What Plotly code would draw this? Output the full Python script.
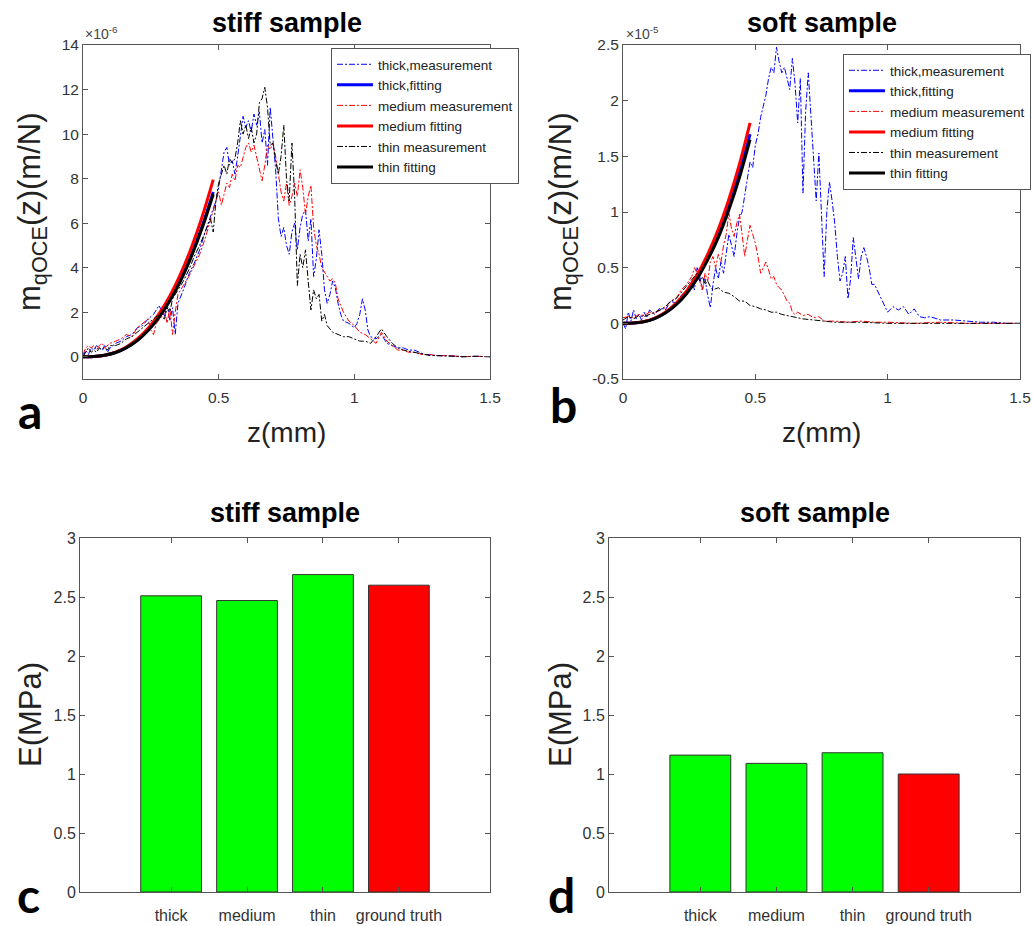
import plotly.graph_objects as go

# figure fills the whole 1033x926 page (body margin removed after drawing)
W, H = 1033, 926
def px(x): return x / W
def py(y): return 1 - y / H

# ---------------- data (z in mm, m in 1e-6 m/N for stiff, 1e-5 m/N for soft) ----------------
stiff_thick_meas = [(0,0.0),(0.01,0.3),(0.02,0.1),(0.03,0.4),(0.04,0.3),(0.05,0.5),(0.06,0.4),(0.07,0.3),(0.08,0.5),(0.09,0.2),(0.10,0.4),(0.12,0.6),(0.14,0.7),(0.16,0.9),(0.18,1.0),(0.20,1.3),(0.22,1.4),(0.24,1.7),(0.26,1.9),(0.28,2.3),(0.30,1.8),(0.31,2.4),(0.32,1.6),(0.33,2.2),(0.34,1.0),(0.35,2.4),(0.37,3.0),(0.39,3.7),(0.41,4.2),(0.43,4.8),(0.45,5.6),(0.47,6.3),(0.49,7.0),(0.50,7.6),(0.51,8.5),(0.52,9.2),(0.53,9.4),(0.54,8.6),(0.55,8.8),(0.56,8.2),(0.57,9.0),(0.58,9.8),(0.59,10.8),(0.60,10.3),(0.61,10.6),(0.62,10.1),(0.63,10.9),(0.64,10.4),(0.65,11.0),(0.66,9.6),(0.67,10.2),(0.68,8.6),(0.69,11.2),(0.70,9.8),(0.71,8.4),(0.72,6.2),(0.73,5.4),(0.74,5.8),(0.75,5.0),(0.76,4.6),(0.77,5.6),(0.78,6.0),(0.79,4.8),(0.80,5.8),(0.81,6.4),(0.82,6.6),(0.83,5.2),(0.84,6.2),(0.85,3.6),(0.86,4.4),(0.87,5.7),(0.88,4.6),(0.89,3.0),(0.90,2.4),(0.91,2.8),(0.92,3.4),(0.93,3.1),(0.94,2.4),(0.95,1.9),(0.96,1.6),(0.98,1.5),(1.00,1.3),(1.01,1.5),(1.02,1.9),(1.03,2.6),(1.04,2.1),(1.05,1.2),(1.06,0.9),(1.08,0.8),(1.10,1.0),(1.12,0.6),(1.14,0.5),(1.16,0.4),(1.18,0.4),(1.20,0.3),(1.22,0.3),(1.24,0.2),(1.26,0.1),(1.28,0.1),(1.30,0.05),(1.35,0.05),(1.40,0.0),(1.45,0.02),(1.50,0.0)]
stiff_medium_meas = [(0,0.1),(0.01,0.4),(0.02,0.5),(0.03,0.4),(0.04,0.5),(0.05,0.3),(0.06,0.5),(0.07,0.6),(0.08,0.4),(0.09,0.5),(0.10,0.6),(0.12,0.7),(0.14,0.8),(0.16,1.0),(0.18,0.9),(0.20,1.3),(0.22,1.5),(0.24,1.7),(0.25,1.2),(0.26,1.0),(0.27,1.5),(0.29,1.8),(0.30,2.1),(0.31,1.5),(0.32,2.2),(0.33,1.0),(0.34,2.0),(0.35,2.8),(0.37,3.2),(0.39,3.6),(0.41,4.1),(0.43,4.6),(0.45,5.3),(0.47,6.2),(0.49,7.0),(0.50,7.4),(0.51,6.8),(0.52,7.3),(0.53,7.8),(0.54,7.6),(0.55,8.2),(0.56,7.9),(0.57,8.6),(0.58,8.5),(0.59,9.0),(0.60,9.4),(0.61,9.6),(0.62,9.2),(0.63,9.5),(0.64,9.0),(0.65,8.4),(0.66,7.9),(0.67,8.6),(0.68,9.5),(0.69,9.3),(0.70,9.6),(0.71,9.0),(0.72,8.2),(0.73,7.4),(0.74,7.0),(0.75,7.8),(0.76,6.8),(0.77,7.2),(0.78,7.8),(0.79,7.2),(0.80,8.4),(0.81,7.6),(0.82,6.4),(0.83,7.2),(0.84,7.7),(0.85,5.8),(0.86,5.0),(0.87,4.6),(0.88,4.0),(0.89,3.8),(0.90,3.6),(0.91,3.4),(0.92,3.5),(0.93,3.3),(0.94,2.6),(0.95,2.3),(0.96,2.0),(0.98,1.6),(1.00,1.4),(1.02,1.1),(1.04,1.0),(1.06,0.8),(1.08,0.6),(1.10,1.1),(1.12,0.7),(1.14,0.5),(1.16,0.3),(1.18,0.3),(1.20,0.2),(1.22,0.2),(1.25,0.1),(1.28,0.1),(1.30,0.05),(1.35,0.05),(1.40,0.0),(1.45,0.02),(1.50,0.0)]
stiff_thin_meas = [(0,0.0),(0.01,0.2),(0.02,0.4),(0.03,0.2),(0.04,0.3),(0.05,0.2),(0.06,0.4),(0.07,0.3),(0.08,0.4),(0.09,0.3),(0.10,0.5),(0.12,0.5),(0.14,0.6),(0.16,0.8),(0.18,0.9),(0.20,1.1),(0.22,1.3),(0.24,1.5),(0.26,1.7),(0.28,1.9),(0.30,1.7),(0.31,2.2),(0.32,2.0),(0.33,2.6),(0.35,3.0),(0.37,3.4),(0.39,3.9),(0.41,4.5),(0.43,5.0),(0.45,5.6),(0.47,6.2),(0.48,5.6),(0.49,7.0),(0.50,7.8),(0.51,8.2),(0.52,8.6),(0.53,8.2),(0.54,8.9),(0.55,8.7),(0.56,8.9),(0.57,9.6),(0.58,10.6),(0.59,10.0),(0.60,10.4),(0.61,9.8),(0.62,10.3),(0.63,9.6),(0.64,10.0),(0.65,11.4),(0.66,11.6),(0.67,12.1),(0.68,11.2),(0.69,9.5),(0.70,9.6),(0.71,8.8),(0.72,8.2),(0.73,9.0),(0.74,10.4),(0.75,8.0),(0.76,7.0),(0.77,9.6),(0.78,7.2),(0.79,3.2),(0.80,4.6),(0.81,4.0),(0.82,4.8),(0.83,3.4),(0.84,2.1),(0.85,3.0),(0.86,2.6),(0.87,2.8),(0.88,1.6),(0.89,1.9),(0.90,1.4),(0.92,1.1),(0.94,1.0),(0.96,0.9),(0.98,0.9),(1.00,0.8),(1.02,0.7),(1.04,0.7),(1.06,0.6),(1.08,0.9),(1.10,1.25),(1.12,0.9),(1.14,0.6),(1.16,0.4),(1.18,0.3),(1.20,0.25),(1.22,0.2),(1.25,0.1),(1.28,0.05),(1.30,0.05),(1.35,0.02),(1.40,0.0),(1.45,0.02),(1.50,0.0)]

fit_z = [0, 0.04, 0.08, 0.12, 0.16, 0.20, 0.24, 0.28, 0.32, 0.36, 0.40, 0.44, 0.48]
stiff_thick_fit = [0, 0.01, 0.07, 0.19, 0.41, 0.74, 1.20, 1.79, 2.55, 3.47, 4.58, 5.89, 7.40]
stiff_medium_fit = [0, 0.01, 0.07, 0.21, 0.44, 0.80, 1.28, 1.93, 2.73, 3.73, 4.92, 6.32, 7.95]
stiff_thin_fit = [0, 0.01, 0.07, 0.19, 0.41, 0.73, 1.18, 1.77, 2.51, 3.42, 4.52, 5.81, 7.30]

soft_thick_meas = [(0,0.0),(0.01,-0.05),(0.02,0.1),(0.03,0.02),(0.04,0.12),(0.05,0.04),(0.06,0.08),(0.07,0.03),(0.08,0.1),(0.09,0.05),(0.10,0.12),(0.12,0.08),(0.14,0.14),(0.16,0.12),(0.18,0.2),(0.20,0.18),(0.22,0.25),(0.24,0.3),(0.26,0.38),(0.27,0.3),(0.28,0.5),(0.29,0.42),(0.30,0.3),(0.31,0.4),(0.32,0.25),(0.33,0.14),(0.34,0.35),(0.35,0.5),(0.36,0.4),(0.37,0.55),(0.38,0.45),(0.39,0.65),(0.40,0.8),(0.41,0.7),(0.42,0.6),(0.43,0.8),(0.44,0.95),(0.45,1.0),(0.46,1.15),(0.47,1.3),(0.48,1.45),(0.49,1.4),(0.50,1.6),(0.51,1.7),(0.52,1.85),(0.53,1.95),(0.54,2.05),(0.55,2.2),(0.56,2.3),(0.57,2.25),(0.58,2.48),(0.59,2.35),(0.60,2.25),(0.61,2.3),(0.62,2.2),(0.63,2.1),(0.64,2.38),(0.65,2.15),(0.66,1.8),(0.67,2.2),(0.68,1.17),(0.69,1.9),(0.70,2.25),(0.71,1.9),(0.72,1.5),(0.73,1.1),(0.74,1.53),(0.75,1.0),(0.76,0.42),(0.77,1.0),(0.78,1.27),(0.79,1.1),(0.80,0.9),(0.81,0.6),(0.82,0.38),(0.83,0.45),(0.84,0.6),(0.85,0.22),(0.86,0.4),(0.87,0.77),(0.88,0.6),(0.89,0.4),(0.90,0.6),(0.91,0.68),(0.92,0.6),(0.93,0.5),(0.94,0.35),(0.95,0.35),(0.96,0.3),(0.98,0.2),(1.00,0.1),(1.02,0.15),(1.04,0.12),(1.06,0.15),(1.08,0.08),(1.10,0.13),(1.12,0.06),(1.14,0.05),(1.16,0.06),(1.20,0.03),(1.25,0.03),(1.30,0.02),(1.35,0.01),(1.40,0.01),(1.45,0.0),(1.50,0.0)]
soft_medium_meas = [(0,0.05),(0.02,0.06),(0.04,0.05),(0.06,0.08),(0.08,0.07),(0.10,0.1),(0.12,0.09),(0.14,0.12),(0.16,0.14),(0.18,0.2),(0.20,0.22),(0.22,0.3),(0.24,0.35),(0.26,0.42),(0.27,0.5),(0.28,0.45),(0.29,0.38),(0.30,0.3),(0.31,0.45),(0.32,0.38),(0.33,0.55),(0.34,0.6),(0.35,0.5),(0.36,0.62),(0.37,0.55),(0.38,0.7),(0.39,0.8),(0.40,0.99),(0.41,0.85),(0.42,0.78),(0.43,0.9),(0.44,0.98),(0.45,0.8),(0.46,0.6),(0.47,0.75),(0.48,0.88),(0.49,0.8),(0.50,0.72),(0.51,0.6),(0.52,0.45),(0.53,0.5),(0.54,0.55),(0.55,0.48),(0.56,0.4),(0.57,0.42),(0.58,0.35),(0.59,0.32),(0.60,0.3),(0.61,0.25),(0.62,0.2),(0.63,0.18),(0.64,0.1),(0.65,0.08),(0.66,0.1),(0.68,0.07),(0.70,0.08),(0.72,0.05),(0.74,0.06),(0.76,0.02),(0.80,0.02),(0.85,0.01),(0.90,0.02),(0.95,0.01),(1.00,0.01),(1.10,0.0),(1.20,0.01),(1.30,0.0),(1.40,0.0),(1.50,0.0)]
soft_thin_meas = [(0,0.03),(0.02,0.06),(0.04,0.04),(0.06,0.07),(0.08,0.06),(0.10,0.08),(0.12,0.1),(0.14,0.12),(0.16,0.15),(0.18,0.2),(0.20,0.22),(0.22,0.28),(0.24,0.33),(0.26,0.4),(0.28,0.45),(0.29,0.38),(0.30,0.42),(0.31,0.35),(0.32,0.38),(0.33,0.33),(0.34,0.3),(0.36,0.32),(0.38,0.28),(0.40,0.27),(0.42,0.24),(0.44,0.2),(0.46,0.2),(0.48,0.16),(0.50,0.15),(0.52,0.13),(0.54,0.12),(0.56,0.1),(0.58,0.1),(0.60,0.08),(0.62,0.07),(0.65,0.05),(0.68,0.04),(0.72,0.03),(0.76,0.02),(0.80,0.01),(0.90,0.01),(1.00,0.0),(1.20,0.0),(1.50,0.0)]

soft_thick_fit = [0, 0.002, 0.015, 0.044, 0.095, 0.17, 0.275, 0.41, 0.585, 0.80, 1.05, 1.35, 1.70]
soft_medium_fit = [0, 0.003, 0.016, 0.047, 0.10, 0.18, 0.29, 0.436, 0.62, 0.845, 1.115, 1.43, 1.80]
soft_thin_fit = [0, 0.002, 0.015, 0.043, 0.092, 0.165, 0.266, 0.40, 0.57, 0.77, 1.02, 1.31, 1.65]

categories = ["thick", "medium", "thin", "ground truth"]
stiff_E = [2.51, 2.47, 2.69, 2.60]
soft_E = [1.16, 1.09, 1.18, 1.00]
bar_colors = ["#00ff00", "#00ff00", "#00ff00", "#ff0000"]

# ---------------- figure ----------------
FONT = "Liberation Sans"
fig = go.Figure()

def add_panel(meas, fits, xa, ya, leg):
    names = [("thick,measurement", "thick,fitting", "#0000ff"),
             ("medium measurement", "medium fitting", "#ff0000"),
             ("thin measurement", "thin fitting", "#000000")]
    for (mn, fn, col), m, f in zip(names, meas, fits):
        fig.add_trace(go.Scatter(x=[p[0] for p in m], y=[p[1] for p in m], mode="lines",
                                 name=mn, xaxis=xa, yaxis=ya, legend=leg,
                                 line=dict(color=col, width=1, dash="6px,2px,2px,2px")))
        fig.add_trace(go.Scatter(x=fit_z, y=f, mode="lines", name=fn, xaxis=xa, yaxis=ya,
                                 legend=leg, line=dict(color=col, width=3, shape="spline")))

add_panel([stiff_thick_meas, stiff_medium_meas, stiff_thin_meas],
          [stiff_thick_fit, stiff_medium_fit, stiff_thin_fit], "x", "y", "legend")
add_panel([soft_thick_meas, soft_medium_meas, soft_thin_meas],
          [soft_thick_fit, soft_medium_fit, soft_thin_fit], "x2", "y2", "legend2")

fig.add_trace(go.Bar(x=categories, y=stiff_E, xaxis="x3", yaxis="y3", width=0.8,
                     marker=dict(color=bar_colors, line=dict(color="#333333", width=1)),
                     showlegend=False))
fig.add_trace(go.Bar(x=categories, y=soft_E, xaxis="x4", yaxis="y4", width=0.8,
                     marker=dict(color=bar_colors, line=dict(color="#333333", width=1)),
                     showlegend=False))

ax = dict(showline=True, linecolor="#555555", linewidth=1, mirror="ticks", ticks="inside",
          ticklen=5, tickcolor="#555555", showgrid=False, zeroline=False, automargin=False,
          tickfont=dict(family=FONT, size=15.5, color="#333333"))

ya_top = [py(379), py(45)]
ya_bot = [py(892), py(538)]
bar_tick = dict(family=FONT, size=16, color="#333333")

fig.update_layout(
    width=W, height=H, autosize=False,
    margin=dict(l=0, r=0, t=0, b=0, autoexpand=False),
    paper_bgcolor="white", plot_bgcolor="white",
    xaxis=dict(ax, domain=[px(83), px(490)], range=[0, 1.5], tickvals=[0, 0.5, 1, 1.5],
               ticktext=["0", "0.5", "1", "1.5"], anchor="y", ticklabelstandoff=4),
    yaxis=dict(ax, domain=ya_top, range=[-1, 14], tickvals=list(range(0, 15, 2)), anchor="x"),
    xaxis2=dict(ax, domain=[px(623), px(1020)], range=[0, 1.5], tickvals=[0, 0.5, 1, 1.5],
                ticktext=["0", "0.5", "1", "1.5"], anchor="y2", ticklabelstandoff=4),
    yaxis2=dict(ax, domain=ya_top, range=[-0.5, 2.5], tickvals=[-0.5, 0, 0.5, 1, 1.5, 2, 2.5],
                ticktext=["-0.5", "0", "0.5", "1", "1.5", "2", "2.5"], anchor="x2"),
    xaxis3=dict(ax, domain=[px(80), px(490)], range=[-1.2, 4.2], anchor="y3",
                ticklabelstandoff=9, tickfont=bar_tick),
    yaxis3=dict(ax, domain=ya_bot, range=[0, 3], tickvals=[0, 0.5, 1, 1.5, 2, 2.5, 3],
                ticktext=["0", "0.5", "1", "1.5", "2", "2.5", "3"], anchor="x3", tickfont=bar_tick),
    xaxis4=dict(ax, domain=[px(609), px(1020)], range=[-1.2, 4.2], anchor="y4",
                ticklabelstandoff=9, tickfont=bar_tick),
    yaxis4=dict(ax, domain=ya_bot, range=[0, 3], tickvals=[0, 0.5, 1, 1.5, 2, 2.5, 3],
                ticktext=["0", "0.5", "1", "1.5", "2", "2.5", "3"], anchor="x4", tickfont=bar_tick),
    legend=dict(x=px(331), y=py(48), xanchor="left", yanchor="top", bgcolor="white",
                bordercolor="#555555", borderwidth=1, font=dict(family=FONT, size=13.5, color="#222222"),
                tracegroupgap=0, itemwidth=36),
    legend2=dict(x=px(843), y=py(54), xanchor="left", yanchor="top", bgcolor="white",
                 bordercolor="#555555", borderwidth=1, font=dict(family=FONT, size=13.5, color="#222222"),
                 tracegroupgap=0, itemwidth=36),
    bargap=0.2,
)

ann = []
def text(x, y, s, size, bold=False, angle=0, family=FONT, color="#000000", xanchor="center"):
    ann.append(dict(x=px(x), y=py(y), xref="paper", yref="paper", text=(f"<b>{s}</b>" if bold else s),
                    showarrow=False, textangle=angle, xanchor=xanchor, yanchor="middle",
                    font=dict(family=family, size=size, color=color)))

# titles
text(286.5, 23, "stiff sample", 27, bold=True)
text(821.5, 23, "soft sample", 27, bold=True)
text(285, 513, "stiff sample", 27, bold=True)
text(814.5, 513, "soft sample", 27, bold=True)
# exponent labels
text(83, 33, "×10<sup>-6</sup>", 14, color="#444444", xanchor="left")
text(624, 33, "×10<sup>-5</sup>", 14, color="#444444", xanchor="left")
# axis titles
text(32, 212, "m<sub>qOCE</sub>(z)(m/N)", 31, angle=-90, color="#222222")
text(563, 212, "m<sub>qOCE</sub>(z)(m/N)", 31, angle=-90, color="#222222")
text(286.5, 432, "z(mm)", 28, color="#222222")
text(821.5, 432, "z(mm)", 28, color="#222222")
text(30, 715, "E(MPa)", 31, angle=-90, color="#222222")
text(560, 715, "E(MPa)", 31, angle=-90, color="#222222")
# panel letters
text(30, 410, "a", 48, bold=True, family="Lato")
text(563, 405, "b", 48, bold=True, family="Lato")
text(28, 894, "c", 48, bold=True, family="Lato")
text(561, 894, "d", 48, bold=True, family="Lato")

fig.update_layout(annotations=ann)

fig.write_html("out.html", config={"displayModeBar": False},
               post_script="document.body.style.margin='0';document.documentElement.style.overflow='hidden';")
